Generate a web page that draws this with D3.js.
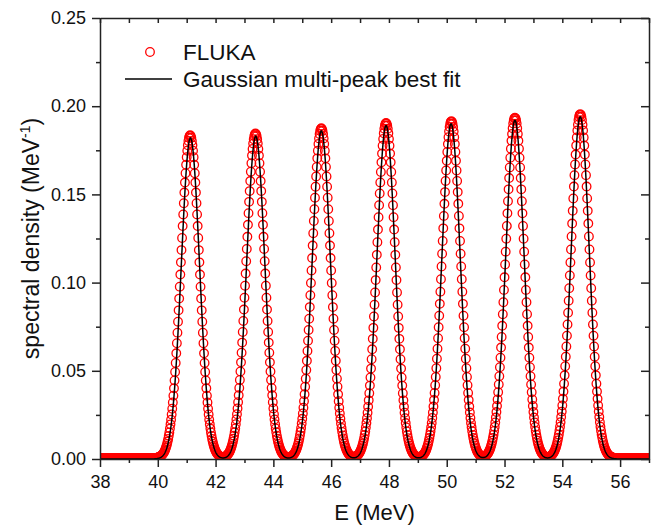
<!DOCTYPE html>
<html>
<head>
<meta charset="utf-8">
<script src="https://cdn.jsdelivr.net/npm/d3@7"></script>
<style>
  html, body { margin: 0; padding: 0; background: #fff; }
  svg { display: block; font-family: "Liberation Sans", Arial, sans-serif; }
</style>
</head>
<body>
<div id="chart"></div>
<script>
// ── Data ──────────────────────────────────────────
// FLUKA spectrum: energy grid (MeV), peak centres / heights and the
// relative peak profile (offset steps of 0.02 MeV)
const E_START = 38, E_END = 57, E_STEP = 0.02;
const flukaCenters = [41.12, 43.38, 45.66, 47.90, 50.16, 52.36, 54.62];
const flukaHeights = [0.183, 0.184, 0.187, 0.190, 0.191, 0.193, 0.195];
const flukaProfile = [
  1.0000, 0.9980, 0.9922, 0.9826, 0.9692, 0.9523, 0.9321, 0.9087, 0.8825, 0.8537,
  0.8226, 0.7895, 0.7548, 0.7189, 0.6819, 0.6444, 0.6065, 0.5687, 0.5311, 0.4941,
  0.4578, 0.4226, 0.3886, 0.3559, 0.3247, 0.2950, 0.2671, 0.2408, 0.2163, 0.1935,
  0.1724, 0.1530, 0.1353, 0.1192, 0.1046, 0.0914, 0.0796, 0.0690, 0.0596, 0.0513,
  0.0439, 0.0375, 0.0319, 0.0270, 0.0228, 0.0192, 0.0160, 0.0134, 0.0111, 0.0092,
  0.0076, 0.0062, 0.0051, 0.0041, 0.0034, 0.0027, 0.0022
];
const flukaBaseline = 0.0005;

// Gaussian multi-peak best-fit parameters
const fitCenters = [41.13, 43.39, 45.66, 47.90, 50.15, 52.36, 54.62];
const fitHeights = [0.182, 0.183, 0.186, 0.189, 0.190, 0.192, 0.194];
const fitSigmas  = [0.315, 0.315, 0.315, 0.315, 0.315, 0.315, 0.315];

// Axis ticks
const xTicks = [38, 40, 42, 44, 46, 48, 50, 52, 54, 56];
const xMinor = [39, 41, 43, 45, 47, 49, 51, 53, 55, 57];
const yTicks = [0, 0.05, 0.10, 0.15, 0.20, 0.25];
const yMinor = [0.025, 0.075, 0.125, 0.175, 0.225];

// ── Build series ──────────────────────────────────
const nPts = Math.round((E_END - E_START) / E_STEP);
const flukaData = d3.range(nPts + 1).map(i => {
  const e = E_START + i * E_STEP;
  let v = flukaBaseline;
  flukaCenters.forEach((c, j) => {
    const k = Math.abs(Math.round((e - c) / E_STEP));
    if (k < flukaProfile.length) v += flukaHeights[j] * flukaProfile[k];
  });
  return { e, v };
});

const fitData = d3.range(0, Math.round((E_END - E_START) / 0.01) + 1).map(i => {
  const e = E_START + i * 0.01;
  let v = 0;
  fitCenters.forEach((c, j) => {
    v += fitHeights[j] * Math.exp(-((e - c) ** 2) / (2 * fitSigmas[j] ** 2));
  });
  return { e, v };
});

// ── Layout ────────────────────────────────────────
const W = 655, H = 528;
const M = { top: 18, right: 6, bottom: 69, left: 100 };
const x = d3.scaleLinear().domain([38, 57]).range([M.left, W - M.right]);
const y = d3.scaleLinear().domain([0, 0.25]).range([H - M.bottom, M.top]);

const svg = d3.select("#chart").append("svg")
  .attr("width", W).attr("height", H);

svg.append("clipPath").attr("id", "plot-clip")
  .append("rect")
  .attr("x", M.left).attr("y", M.top)
  .attr("width", x.range()[1] - M.left)
  .attr("height", y.range()[0] - M.top);

const AXIS = "#222";
const TICK_FONT = 18;

// ── Marks ─────────────────────────────────────────
const gPlot = svg.append("g").attr("clip-path", "url(#plot-clip)");

gPlot.selectAll("circle.fluka")
  .data(flukaData)
  .join("circle")
  .attr("class", "fluka")
  .attr("cx", d => x(d.e))
  .attr("cy", d => y(d.v))
  .attr("r", 4.3)
  .attr("fill", "none")
  .attr("stroke", "#ff0000")
  .attr("stroke-width", 1.3);

gPlot.append("path")
  .datum(fitData)
  .attr("fill", "none")
  .attr("stroke", "#000")
  .attr("stroke-width", 1.5)
  .attr("d", d3.line().x(d => x(d.e)).y(d => y(d.v)));

// ── Axes ──────────────────────────────────────────
function styleAxis(g) {
  g.select(".domain").attr("stroke", AXIS).attr("stroke-width", 1.5);
  g.selectAll(".tick line").attr("stroke", AXIS).attr("stroke-width", 1.5);
  g.selectAll(".tick text")
    .attr("fill", "#111")
    .style("font-family", "'Liberation Sans', Arial, sans-serif")
    .style("font-size", TICK_FONT + "px");
}

const yB = y(0), yT = M.top, xL = M.left, xR = x.range()[1];

// bottom
svg.append("g").attr("transform", `translate(0,${yB})`)
  .call(d3.axisBottom(x).tickValues(xTicks).tickSize(8).tickPadding(8)
    .tickFormat(d3.format("d")).tickSizeOuter(0))
  .call(styleAxis);
svg.append("g").attr("transform", `translate(0,${yB})`)
  .call(d3.axisBottom(x).tickValues(xMinor).tickSize(4).tickFormat("").tickSizeOuter(0))
  .call(g => g.select(".domain").remove())
  .call(styleAxis);

// top (inward ticks)
svg.append("g").attr("transform", `translate(0,${yT})`)
  .call(d3.axisBottom(x).tickValues(xTicks.concat(xMinor)).tickSize(5).tickFormat("").tickSizeOuter(0))
  .call(styleAxis);

// left
svg.append("g").attr("transform", `translate(${xL},0)`)
  .call(d3.axisLeft(y).tickValues(yTicks).tickSize(8).tickPadding(6)
    .tickFormat(d3.format(".2f")).tickSizeOuter(0))
  .call(styleAxis);
svg.append("g").attr("transform", `translate(${xL},0)`)
  .call(d3.axisLeft(y).tickValues(yMinor).tickSize(4).tickFormat("").tickSizeOuter(0))
  .call(g => g.select(".domain").remove())
  .call(styleAxis);

// right (inward ticks)
svg.append("g").attr("transform", `translate(${xR},0)`)
  .call(d3.axisLeft(y).tickValues(yTicks).tickSize(8).tickFormat("").tickSizeOuter(0))
  .call(styleAxis);
svg.append("g").attr("transform", `translate(${xR},0)`)
  .call(d3.axisLeft(y).tickValues(yMinor).tickSize(4).tickFormat("").tickSizeOuter(0))
  .call(g => g.select(".domain").remove())
  .call(styleAxis);

// ── Axis titles ───────────────────────────────────
svg.append("text")
  .attr("x", (xL + xR) / 2).attr("y", 520)
  .attr("text-anchor", "middle")
  .attr("font-size", 22).attr("fill", "#111")
  .text("E (MeV)");

const yTitle = svg.append("text")
  .attr("transform", `translate(39,${(yT + yB) / 2}) rotate(-90)`)
  .attr("text-anchor", "middle")
  .attr("font-size", 23).attr("fill", "#111");
yTitle.append("tspan").text("spectral density (MeV");
yTitle.append("tspan").attr("font-size", 14).attr("dy", -9).text("-1");
yTitle.append("tspan").attr("dy", 9).text(")");

// ── Legend ────────────────────────────────────────
const leg = svg.append("g");
leg.append("circle")
  .attr("cx", 150).attr("cy", 52).attr("r", 4.3)
  .attr("fill", "none").attr("stroke", "#ff0000").attr("stroke-width", 1.3);
leg.append("text")
  .attr("x", 183).attr("y", 60)
  .attr("font-size", 22.5).attr("fill", "#111")
  .text("FLUKA");
leg.append("line")
  .attr("x1", 125).attr("x2", 172).attr("y1", 79).attr("y2", 79)
  .attr("stroke", "#000").attr("stroke-width", 1.5);
leg.append("text")
  .attr("x", 183).attr("y", 87)
  .attr("font-size", 22.5).attr("fill", "#111")
  .text("Gaussian multi-peak best fit");
</script>
</body>
</html>
